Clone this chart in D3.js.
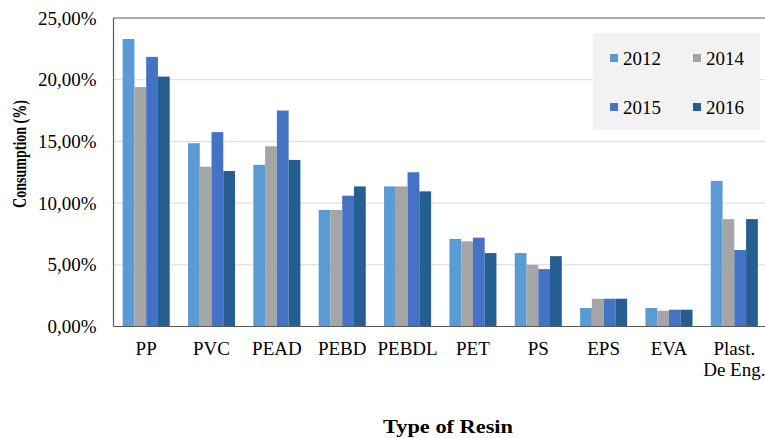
<!DOCTYPE html>
<html>
<head>
<meta charset="utf-8">
<script src="https://cdn.jsdelivr.net/npm/d3@7"></script>
<style>
  body { margin: 0; background: #fff; }
  text { font-family: "Liberation Serif", "Times New Roman", serif; fill: #000; }
</style>
</head>
<body>
<div id="chart"></div>
<script>
// data
const categories = ['PP', 'PVC', 'PEAD', 'PEBD', 'PEBDL', 'PET', 'PS', 'EPS', 'EVA', 'Plast.\nDe Eng.'];
const years = ['2012', '2014', '2015', '2016'];
const v2012 = [23.3, 14.85, 13.1, 9.45, 11.35, 7.1, 5.95, 1.5, 1.5, 11.8];
const v2014 = [19.4, 12.95, 14.6, 9.45, 11.35, 6.9, 5.0, 2.25, 1.28, 8.7];
const v2015 = [21.85, 15.75, 17.5, 10.6, 12.5, 7.2, 4.65, 2.25, 1.36, 6.2];
const v2016 = [20.25, 12.6, 13.5, 11.35, 10.95, 5.95, 5.7, 2.25, 1.36, 8.7];
const yTicks = [0, 5, 10, 15, 20, 25];
const colors = ['#5b9bd5', '#a5a5a5', '#4472c4', '#255e91'];

const series = [v2012, v2014, v2015, v2016];
const width = 765, height = 438;
const margin = {top: 18, right: -2, bottom: 111.5, left: 113.5};

const svg = d3.select('#chart').append('svg')
  .attr('width', width)
  .attr('height', height);

const x = d3.scaleBand()
  .domain(categories)
  .range([margin.left, width - margin.right])
  .paddingInner(0.28)
  .paddingOuter(0.14);

const xSub = d3.scaleBand()
  .domain(years)
  .range([0, x.bandwidth()]);

const y = d3.scaleLinear()
  .domain([0, 25])
  .range([height - margin.bottom, margin.top]);

// gridlines
svg.append('g')
  .selectAll('line')
  .data(yTicks.filter(d => d > 0 && d < 25))
  .enter()
    .append('line')
      .attr('x1', margin.left)
      .attr('x2', width)
      .attr('y1', d => y(d))
      .attr('y2', d => y(d))
      .style('stroke', '#d9d9d9')
      .style('stroke-width', 1);

// bars
const groups = svg.append('g')
  .selectAll('g')
  .data(categories)
  .enter()
    .append('g')
      .attr('transform', d => `translate(${x(d)},0)`);

groups.selectAll('rect')
  .data((d, i) => years.map((yr, k) => ({yr, k, v: series[k][i]})))
  .enter()
    .append('rect')
      .attr('x', d => xSub(d.yr))
      .attr('y', d => y(d.v))
      .attr('width', xSub.bandwidth())
      .attr('height', d => y(0) - y(d.v))
      .style('fill', d => colors[d.k]);

// frame lines
const axisColor = '#595959';
svg.append('line')
  .attr('x1', margin.left).attr('x2', width)
  .attr('y1', y(25)).attr('y2', y(25))
  .style('stroke', axisColor).style('stroke-width', 1.2);
svg.append('line')
  .attr('x1', margin.left).attr('x2', width)
  .attr('y1', y(0)).attr('y2', y(0))
  .style('stroke', axisColor).style('stroke-width', 1.2);
svg.append('line')
  .attr('x1', margin.left).attr('x2', margin.left)
  .attr('y1', y(25)).attr('y2', y(0))
  .style('stroke', axisColor).style('stroke-width', 1.2);

// y tick labels
const fmt = d => d.toFixed(2).replace('.', ',') + '%';
svg.append('g')
  .selectAll('text')
  .data(yTicks)
  .enter()
    .append('text')
      .attr('x', margin.left - 17)
      .attr('y', d => y(d))
      .attr('dy', '0.35em')
      .attr('text-anchor', 'end')
      .style('font-size', '19px')
      .text(fmt);

// category labels
const catLabels = svg.append('g')
  .selectAll('text')
  .data(categories)
  .enter()
    .append('text')
      .attr('text-anchor', 'middle')
      .style('font-size', '19px');
catLabels.selectAll('tspan')
  .data(d => d.split('\n').map(s => ({s, c: d})))
  .enter()
    .append('tspan')
      .attr('x', d => x(d.c) + x.bandwidth() / 2)
      .attr('y', (d, i) => 355 + i * 21)
      .text(d => d.s);

// axis titles
svg.append('text')
  .attr('transform', `translate(26,154) rotate(-90)`)
  .attr('text-anchor', 'middle')
  .attr('textLength', 108)
  .attr('lengthAdjust', 'spacingAndGlyphs')
  .style('font-size', '18px')
  .style('font-weight', 'bold')
  .text('Consumption (%)');

svg.append('text')
  .attr('x', 448)
  .attr('y', 433)
  .attr('text-anchor', 'middle')
  .attr('textLength', 130)
  .attr('lengthAdjust', 'spacingAndGlyphs')
  .style('font-size', '19px')
  .style('font-weight', 'bold')
  .text('Type of Resin');

// legend
const legend = svg.append('g').attr('transform', 'translate(593,33)');
legend.append('rect')
  .attr('width', 167)
  .attr('height', 97)
  .style('fill', '#f2f2f2');
const items = legend.selectAll('g')
  .data(years)
  .enter()
    .append('g')
      .attr('transform', (d, i) => `translate(${17 + (i % 2) * 83},${25 + Math.floor(i / 2) * 49})`);
items.append('rect')
  .attr('y', -4)
  .attr('width', 8)
  .attr('height', 8)
  .style('fill', (d, i) => colors[i]);
items.append('text')
  .attr('x', 13)
  .attr('y', 7)
  .style('font-size', '19px')
  .text(d => d);
</script>
</body>
</html>
